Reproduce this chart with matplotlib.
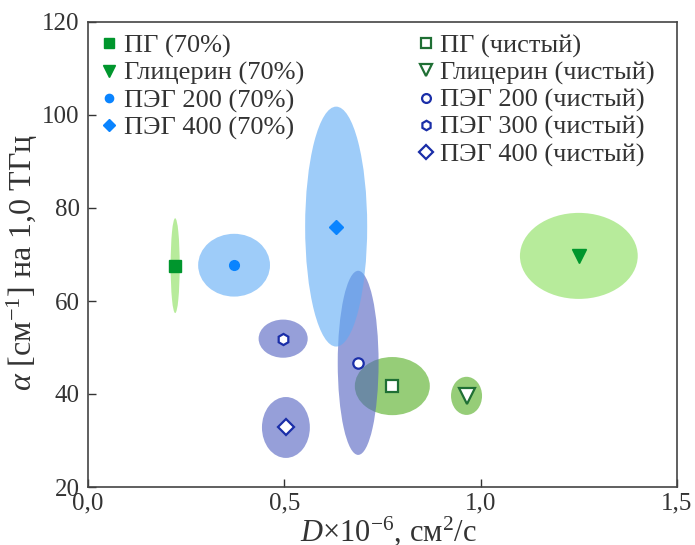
import matplotlib
matplotlib.use("Agg")
import matplotlib.pyplot as plt
from matplotlib.patches import Ellipse
from matplotlib.ticker import FixedLocator, FuncFormatter

plt.rcParams['font.family'] = ['Liberation Serif', 'DejaVu Serif']
plt.rcParams['mathtext.fontset'] = 'custom'
plt.rcParams['mathtext.rm'] = 'Liberation Serif'
plt.rcParams['mathtext.it'] = 'Liberation Serif:italic'

# 70 % aqueous solutions
sol_labels = ["ПГ (70%)", "Глицерин (70%)", "ПЭГ 200 (70%)", "ПЭГ 400 (70%)"]
sol_D = [0.222, 1.250, 0.372, 0.632]
sol_alpha = [67.6, 69.7, 67.7, 76.0]
sol_dD = [0.023, 0.300, 0.183, 0.158]
sol_dalpha = [20.4, 18.5, 13.5, 51.6]

# pure liquids
pure_labels = ["ПГ (чистый)", "Глицерин (чистый)", "ПЭГ 200 (чистый)",
               "ПЭГ 300 (чистый)", "ПЭГ 400 (чистый)"]
pure_D = [0.775, 0.964, 0.688, 0.497, 0.504]
pure_alpha = [41.7, 39.6, 46.7, 51.9, 32.8]
pure_dD = [0.191, 0.079, 0.104, 0.125, 0.122]
pure_dalpha = [12.5, 8.2, 39.6, 8.2, 13.1]

x_ticks = [0.0, 0.5, 1.0, 1.5]
y_ticks = [20, 40, 60, 80, 100, 120]

fig = plt.figure(figsize=(6.95, 5.45), dpi=100)
ax = fig.add_axes([88/695, 1 - 487/545, (677 - 88)/695, (487 - 22)/545])

green_fill_sol = '#87df58'
green_fill_pure = '#50ac1e'
blue_fill = '#5eaaf5'
purple_fill = '#5060c0'
A = 0.6

green_dark = '#00962d'
green_edge = '#1f6f34'
blue_dot = '#0a84ff'
navy = '#1a2ea8'

# uncertainty ellipses: green first, then purple, then blue on top
ell_specs = [
    (sol_D[0], sol_alpha[0], sol_dD[0], sol_dalpha[0], green_fill_sol, 1),
    (sol_D[1], sol_alpha[1], sol_dD[1], sol_dalpha[1], green_fill_sol, 1),
    (pure_D[0], pure_alpha[0], pure_dD[0], pure_dalpha[0], green_fill_pure, 1),
    (pure_D[1], pure_alpha[1], pure_dD[1], pure_dalpha[1], green_fill_pure, 1),
    (pure_D[2], pure_alpha[2], pure_dD[2], pure_dalpha[2], purple_fill, 2),
    (pure_D[3], pure_alpha[3], pure_dD[3], pure_dalpha[3], purple_fill, 2),
    (pure_D[4], pure_alpha[4], pure_dD[4], pure_dalpha[4], purple_fill, 2),
    (sol_D[2], sol_alpha[2], sol_dD[2], sol_dalpha[2], blue_fill, 3),
    (sol_D[3], sol_alpha[3], sol_dD[3], sol_dalpha[3], blue_fill, 3),
]
for cx, cy, w, h, col, z in ell_specs:
    ax.add_patch(Ellipse((cx, cy), w, h, facecolor=col, edgecolor='none',
                         alpha=A, zorder=z))

sol_styles = [('s', green_dark, 8), ('v', green_dark, 10),
              ('o', blue_dot, 7), ('D', blue_dot, 7.5)]
pure_styles = [('s', green_edge, 9), ('v', green_edge, 11),
               ('o', navy, 7.5), ('h', navy, 8), ('D', navy, 8)]

sol_handles = []
for i, (m, c, s) in enumerate(sol_styles):
    h, = ax.plot([sol_D[i]], [sol_alpha[i]], linestyle='none', marker=m,
                 markersize=s, color=c, markeredgecolor=c, zorder=5,
                 label=sol_labels[i])
    sol_handles.append(h)

pure_handles = []
for i, (m, c, s) in enumerate(pure_styles):
    h, = ax.plot([pure_D[i]], [pure_alpha[i]], linestyle='none', marker=m,
                 markersize=s, markerfacecolor='white', markeredgecolor=c,
                 markeredgewidth=1.6, zorder=5, label=pure_labels[i])
    pure_handles.append(h)

ax.set_xlim(0, 1.5)
ax.set_ylim(20, 120)
ax.xaxis.set_major_locator(FixedLocator(x_ticks))
ax.yaxis.set_major_locator(FixedLocator(y_ticks))
ax.xaxis.set_major_formatter(FuncFormatter(lambda v, p: f"{v:.1f}".replace('.', ',')))
ax.yaxis.set_major_formatter(FuncFormatter(lambda v, p: f"{v:.0f}"))
ax.tick_params(direction='in', length=6, width=1.0, labelsize=18,
               colors='#333333', labelcolor='#333333')
ax.tick_params(axis='x', pad=4)
ax.tick_params(axis='y', pad=6)
for sp in ax.spines.values():
    sp.set_color('#444444')
    sp.set_linewidth(1.2)

ax.set_xlabel(r"$\mathit{D}$×10$^{-6}$, см$^{2}$/с", fontsize=22,
              color='#333333')
ax.set_ylabel(r"$\mathit{\alpha}$ [см$^{-1}$] на 1,0 ТГц", fontsize=23,
              color='#333333')
ax.xaxis.set_label_coords(0.51, -0.058)
ax.yaxis.set_label_coords(-0.082, 0.484)

leg_kw = dict(frameon=False, fontsize=19, handlelength=0.5,
              handletextpad=0.3, labelspacing=0.13, borderaxespad=0.0,
              borderpad=0.0, labelcolor='#333333', markerscale=0.85)
leg1 = ax.legend(handles=sol_handles, loc='upper left',
                 bbox_to_anchor=(0.025, 0.974), **leg_kw)
ax.add_artist(leg1)
ax.legend(handles=pure_handles, loc='upper left',
          bbox_to_anchor=(0.562, 0.975), **leg_kw)

fig.savefig("out.png", dpi=100)
